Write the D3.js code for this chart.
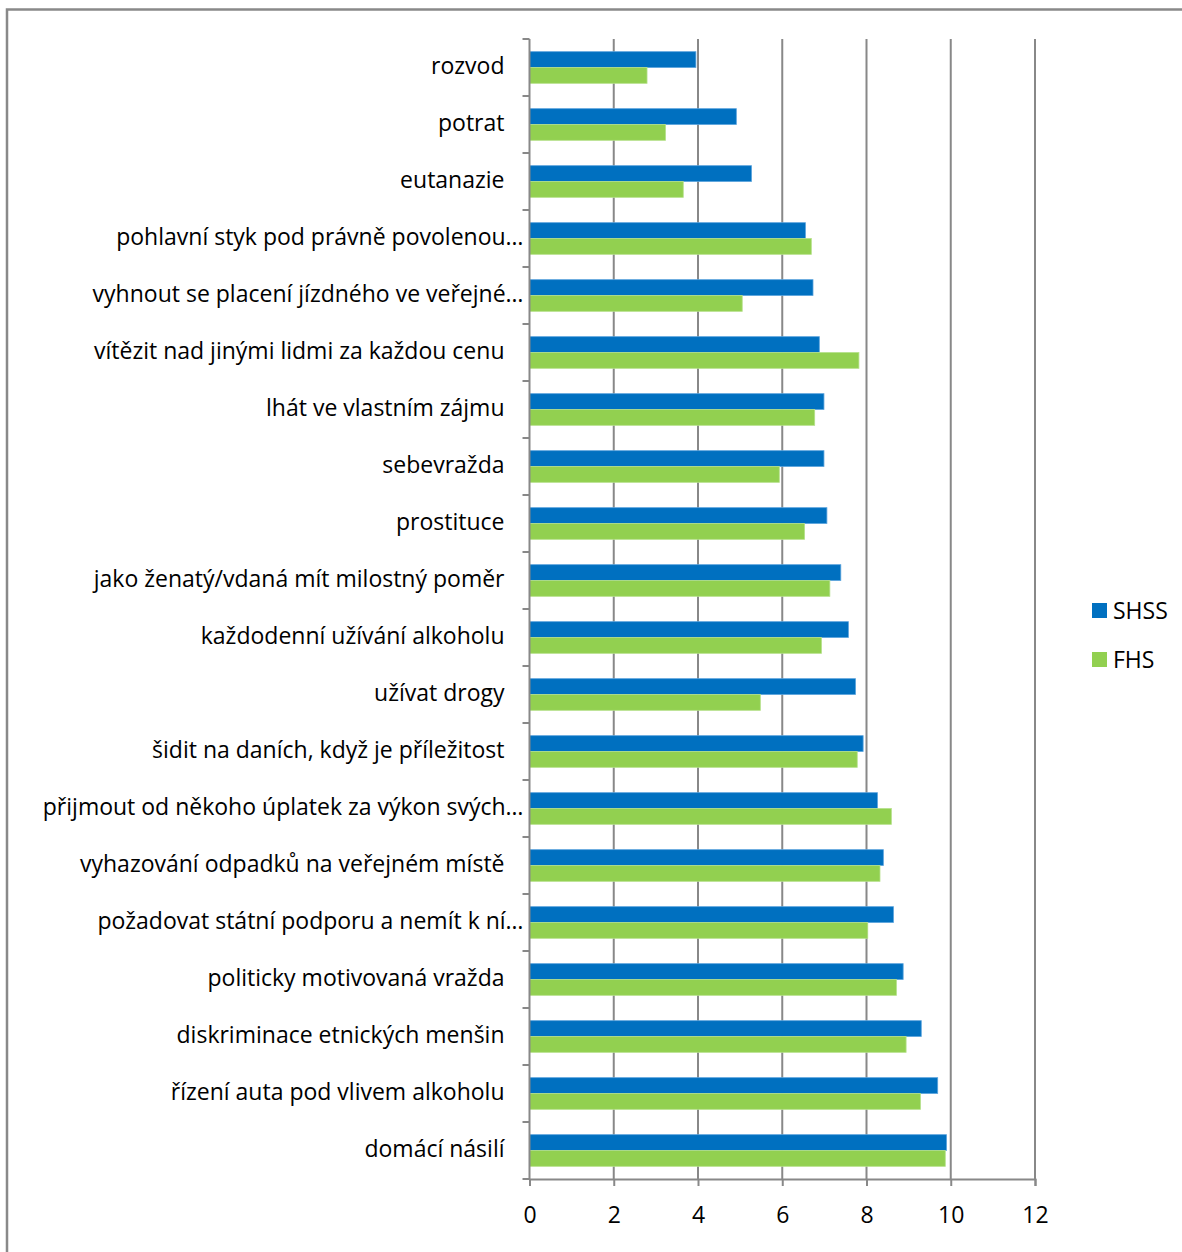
<!DOCTYPE html>
<html>
<head>
<meta charset="utf-8">
<script src="https://cdn.jsdelivr.net/npm/d3@7"></script>
<style>
  body { margin: 0; background: #fff; }
  text { font-family: "Open Sans", sans-serif; fill: #000; }
</style>
</head>
<body>
<div id="chart"></div>
<script>
// categories, top to bottom
var categories = [
  "rozvod",
  "potrat",
  "eutanazie",
  "pohlavní styk pod právně povolenou…",
  "vyhnout se placení jízdného ve veřejné…",
  "vítězit nad jinými lidmi za každou cenu",
  "lhát ve vlastním zájmu",
  "sebevražda",
  "prostituce",
  "jako ženatý/vdaná mít milostný poměr",
  "každodenní užívání alkoholu",
  "užívat drogy",
  "šidit na daních, když je příležitost",
  "přijmout od někoho úplatek za výkon svých…",
  "vyhazování odpadků na veřejném místě",
  "požadovat státní podporu a nemít k ní…",
  "politicky motivovaná vražda",
  "diskriminace etnických menšin",
  "řízení auta pod vlivem alkoholu",
  "domácí násilí"
];
var seriesNames = ["SHSS", "FHS"];
var shss = [3.95, 4.91, 5.27, 6.55, 6.73, 6.88, 6.99, 6.99, 7.06, 7.39,
            7.57, 7.74, 7.92, 8.26, 8.40, 8.64, 8.87, 9.30, 9.69, 9.90];
var fhs  = [2.79, 3.23, 3.65, 6.69, 5.05, 7.82, 6.77, 5.93, 6.53, 7.13,
            6.93, 5.48, 7.78, 8.59, 8.32, 8.03, 8.71, 8.94, 9.28, 9.87];
var xTicks = [0, 2, 4, 6, 8, 10, 12];
var colors = ["#0070C0", "#92D050"];

var width = 1182, height = 1252;
var margin = {top: 39, left: 529.5, right: 147, bottom: 73};
var fontSize = 23;

var svg = d3.select("#chart").append("svg")
  .attr("width", width)
  .attr("height", height);

// outer frame
svg.append("rect")
  .attr("x", 7).attr("y", 9.5)
  .attr("width", width + 10).attr("height", height + 10)
  .attr("fill", "none")
  .attr("stroke", "#898989")
  .attr("stroke-width", 2.5);

var x = d3.scaleLinear()
  .domain([0, 12])
  .range([margin.left, width - margin.right]);

var y = d3.scaleBand()
  .domain(categories)
  .range([margin.top, height - margin.bottom]);

var sub = d3.scaleBand()
  .domain(seriesNames)
  .range([0, y.bandwidth()])
  .paddingOuter(0.8)
  .paddingInner(0);

// gridlines
svg.append("g")
  .selectAll("line")
  .data(xTicks.slice(1))
  .enter().append("line")
    .attr("x1", function(d) { return x(d); })
    .attr("x2", function(d) { return x(d); })
    .attr("y1", margin.top)
    .attr("y2", height - margin.bottom)
    .attr("stroke", "#888")
    .attr("stroke-width", 2);

// bars
var rows = categories.map(function(c, i) {
  return {cat: c, vals: [shss[i], fhs[i]]};
});

var grp = svg.append("g").selectAll("g")
  .data(rows)
  .enter().append("g")
    .attr("transform", function(d) { return "translate(0," + y(d.cat) + ")"; });

grp.selectAll("rect")
  .data(function(d) { return d.vals.map(function(v, j) { return {name: seriesNames[j], v: v, j: j}; }); })
  .enter().append("rect")
    .attr("x", x(0))
    .attr("y", function(d) { return sub(d.name); })
    .attr("width", function(d) { return x(d.v) - x(0); })
    .attr("height", sub.bandwidth())
    .attr("fill", function(d) { return colors[d.j]; })
    .attr("stroke", function(d) { return d.j === 0 ? "#5aa3dc" : "#b5e08a"; })
    .attr("stroke-width", 0.8);

// bottom axis
var xAxis = svg.append("g")
  .attr("transform", "translate(0," + (height - margin.bottom) + ")")
  .call(d3.axisBottom(x).tickValues(xTicks).tickSize(7).tickPadding(21));
xAxis.select(".domain").attr("stroke", "#888").attr("stroke-width", 2);
xAxis.selectAll(".tick line").attr("stroke", "#888").attr("stroke-width", 2);
xAxis.selectAll(".tick text")
  .attr("font-size", fontSize)
  .attr("font-family", "'Open Sans', sans-serif")
  .attr("fill", "#000");

// left axis: line and ticks at category boundaries
var yAxis = svg.append("g");
yAxis.append("line")
  .attr("x1", x(0)).attr("x2", x(0))
  .attr("y1", margin.top).attr("y2", height - margin.bottom)
  .attr("stroke", "#888").attr("stroke-width", 2);
var bounds = categories.map(function(c) { return y(c); }).concat([height - margin.bottom]);
yAxis.selectAll(".tk")
  .data(bounds)
  .enter().append("line")
    .attr("x1", x(0) - 7).attr("x2", x(0))
    .attr("y1", function(d) { return d; })
    .attr("y2", function(d) { return d; })
    .attr("stroke", "#888").attr("stroke-width", 2);

yAxis.selectAll("text")
  .data(categories)
  .enter().append("text")
    .attr("x", function(d) { return d.slice(-1) === "…" ? x(0) - 6 : x(0) - 25; })
    .attr("y", function(d) { return y(d) + y.bandwidth() / 2 - 3; })
    .attr("text-anchor", "end")
    .attr("dominant-baseline", "central")
    .attr("font-size", fontSize)
    .text(function(d) { return d; });

// legend
var legend = svg.append("g")
  .attr("transform", "translate(1092,603)");
var li = legend.selectAll("g")
  .data(seriesNames)
  .enter().append("g")
    .attr("transform", function(d, i) { return "translate(0," + (i * 49) + ")"; });
li.append("rect")
  .attr("width", 15).attr("height", 15)
  .attr("fill", function(d, i) { return colors[i]; });
li.append("text")
  .attr("x", 21).attr("y", 7)
  .attr("dominant-baseline", "central")
  .attr("font-size", fontSize)
  .text(function(d) { return d; });
</script>
</body>
</html>
